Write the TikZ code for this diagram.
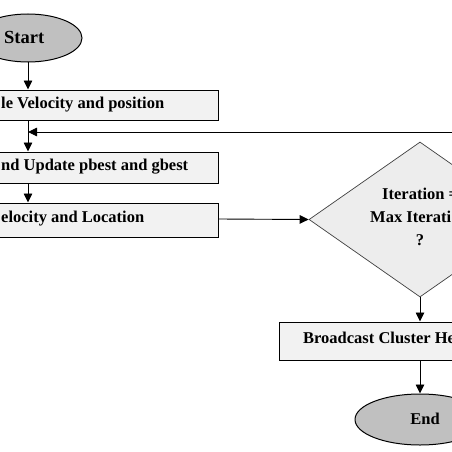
\documentclass[tikz,border=0pt]{standalone}
\usepackage{fontspec}
\setmainfont{Liberation Serif}
\usetikzlibrary{shapes.geometric,arrows.meta}
\begin{document}
\begin{tikzpicture}[x=1pt,y=-1pt,
  txt/.style={font=\bfseries\fontsize{16.5}{20}\selectfont, inner sep=0pt},
  boxnode/.style={draw=black, line width=1pt, fill=boxgray, inner sep=0pt},
  ovalnode/.style={ellipse, draw=black, line width=1pt, fill=ovalgray, inner sep=0pt},
  decnode/.style={diamond, draw=black!75, line width=0.7pt, fill=diagray, inner sep=0pt},
  conn/.style={draw=black, line width=0.9pt, -{Triangle[length=9pt,width=8.5pt]}},
  plain/.style={draw=black, line width=0.9pt}]
\definecolor{boxgray}{HTML}{F2F2F2}
\definecolor{ovalgray}{HTML}{C0C0C0}
\definecolor{diagray}{HTML}{EDEDED}
\useasboundingbox (0,0) rectangle (452,452);
\clip (0,0) rectangle (452,452);
\fill[white] (0,0) rectangle (452,452);
% start
\node[ovalnode, minimum width=108pt, minimum height=48pt] (start) at (28,38) {};
\node[txt, anchor=west, font=\bfseries\fontsize{18.5}{21}\selectfont] (starttxt) at (4,37) {Start};
% box 1
\node[boxnode, minimum width=400pt, minimum height=30pt] (b1) at (18,105) {};
\node[txt, anchor=west] (b1txt) at (1,105) {le Velocity and position};
% box 2
\node[boxnode, minimum width=400pt, minimum height=31pt] (b2) at (18,167.5) {};
\node[txt, anchor=west] (b2txt) at (1,167) {nd Update pbest and gbest};
% box 3
\node[boxnode, minimum width=400pt, minimum height=34pt] (b3) at (18,220) {};
\node[txt, anchor=west] (b3txt) at (1,219) {elocity and Location};
% decision
\node[decnode, minimum width=222pt, minimum height=155pt] (dec) at (420,219.5) {};
\node[txt, anchor=west] (d1) at (382,194) {Iteration =};
\node[txt, anchor=west] (d2) at (370,217) {Max Iterati};
\node[txt] (d3) at (420,240) {?};
% broadcast
\node[boxnode, minimum width=282pt, minimum height=38pt] (b4) at (420,341) {};
\node[txt, anchor=west] (b4txt) at (303,338) {Broadcast Cluster He};
% end
\node[ovalnode, minimum width=130pt, minimum height=51pt] (endn) at (420,419.5) {};
\node[txt] (endtxt) at (425,419) {End};
% connectors
\coordinate (j) at (28,132);
\coordinate (r) at (460,132);
\draw[conn] (start.south -| 28,0) -- (b1.north -| 28,0);
\draw[plain] (b1.south -| 28,0) -- (j);
\draw[conn] (j) -- (b2.north -| 28,0);
\draw[conn] (r) -- (j);
\draw[conn] (b2.south -| 28,0) -- (b3.north -| 28,0);
\draw[conn] (b3.east |- 0,219) -- (dec.west);
\draw[conn] (dec.south) -- (b4.north);
\draw[conn] (b4.south) -- (endn.north);
\end{tikzpicture}
\end{document}
